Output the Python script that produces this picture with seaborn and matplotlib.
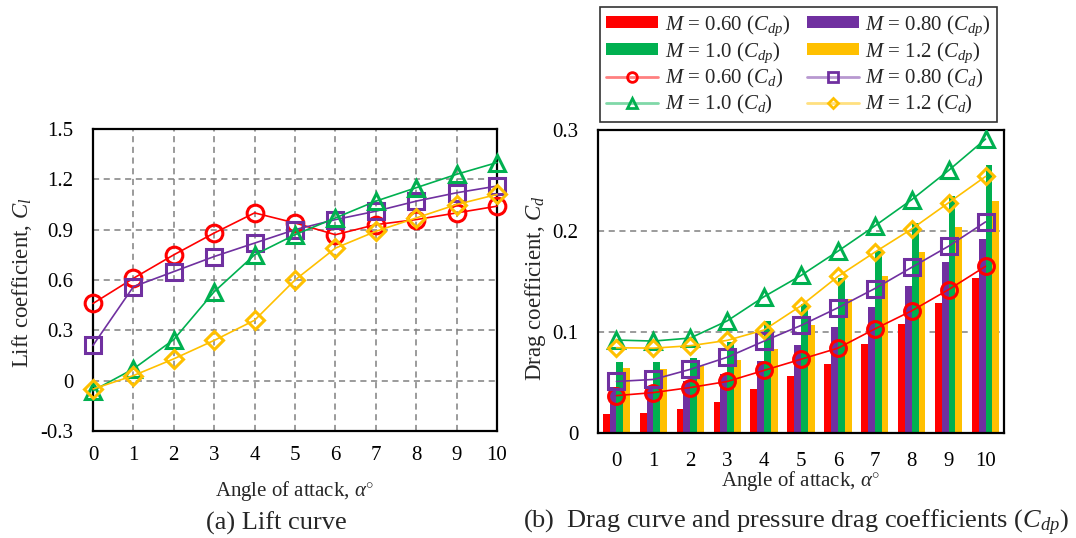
import numpy as np
import pandas as pd
import matplotlib
matplotlib.use("Agg")
import matplotlib.pyplot as plt
from matplotlib.lines import Line2D
from matplotlib.patches import Patch
import seaborn as sns

# ---- data ----
alpha = [0, 1, 2, 3, 4, 5, 6, 7, 8, 9, 10]
mach_labels = ["0.60", "0.80", "1.0", "1.2"]

# lift coefficient C_l
cl_m060 = [0.46, 0.61, 0.75, 0.88, 1.00, 0.94, 0.87, 0.93, 0.96, 1.00, 1.04]
cl_m080 = [0.21, 0.56, 0.65, 0.74, 0.82, 0.90, 0.96, 1.01, 1.07, 1.12, 1.16]
cl_m100 = [-0.06, 0.07, 0.245, 0.53, 0.75, 0.87, 0.97, 1.07, 1.15, 1.23, 1.30]
cl_m120 = [-0.05, 0.03, 0.13, 0.24, 0.36, 0.60, 0.79, 0.89, 0.97, 1.05, 1.11]

# drag coefficient C_d
cd_m060 = [0.037, 0.040, 0.045, 0.051, 0.062, 0.073, 0.084, 0.103, 0.121, 0.142, 0.165]
cd_m080 = [0.051, 0.053, 0.063, 0.075, 0.091, 0.1065, 0.124, 0.143, 0.164, 0.185, 0.209]
cd_m100 = [0.092, 0.091, 0.094, 0.111, 0.135, 0.156, 0.180, 0.205, 0.231, 0.260, 0.291]
cd_m120 = [0.0844, 0.084, 0.0864, 0.0917, 0.102, 0.126, 0.155, 0.179, 0.202, 0.228, 0.254]

# pressure drag coefficient C_dp
cdp_m060 = [0.0185, 0.0198, 0.0237, 0.031, 0.0435, 0.0564, 0.068, 0.0884, 0.108, 0.129, 0.153]
cdp_m080 = [0.046, 0.047, 0.051, 0.058, 0.071, 0.087, 0.105, 0.125, 0.146, 0.169, 0.192]
cdp_m100 = [0.0706, 0.070, 0.074, 0.090, 0.111, 0.128, 0.153, 0.180, 0.208, 0.235, 0.265]
cdp_m120 = [0.064, 0.0636, 0.066, 0.0725, 0.083, 0.107, 0.1325, 0.155, 0.179, 0.204, 0.230]

cl_ticks = [-0.3, 0.0, 0.3, 0.6, 0.9, 1.2, 1.5]
cl_tick_labels = ["-0.3", "0", "0.3", "0.6", "0.9", "1.2", "1.5"]
cd_ticks = [0.0, 0.1, 0.2, 0.3]
cd_tick_labels = ["0", "0.1", "0.2", "0.3"]

colors = ["#FF0000", "#7030A0", "#00B050", "#FFC000"]
light_colors = ["#FF8080", "#B898D0", "#80D8A8", "#FFE080"]
markers = ["o", "s", "^", "D"]
marker_sizes = [12, 12, 12, 9]

# ---- style ----
sns.set_theme(style="white")
plt.rcParams["font.family"] = ["Liberation Serif", "DejaVu Serif"]
plt.rcParams["mathtext.fontset"] = "custom"
plt.rcParams["mathtext.rm"] = "Liberation Serif"
plt.rcParams["mathtext.it"] = "Liberation Serif:italic"
plt.rcParams["mathtext.bf"] = "Liberation Serif:bold"
plt.rcParams["axes.unicode_minus"] = False

FS = 15
YLAB_FS = 16.5
CAP_FS = 19

fig = plt.figure(figsize=(10.76, 5.38), dpi=100)
ax1 = fig.add_axes([0.0864, 0.1989, 0.3755, 0.5613])
ax2 = fig.add_axes([0.5558, 0.1952, 0.3773, 0.5632])

# ---- (a) lift curve ----
cl_series = [cl_m060, cl_m080, cl_m100, cl_m120]
for vals, c, m, ms in zip(cl_series, colors, markers, marker_sizes):
    sns.lineplot(x=alpha, y=vals, ax=ax1, color=c, marker=m, markersize=ms,
                 markerfacecolor="none", markeredgecolor=c, markeredgewidth=2.2,
                 linewidth=1.2, clip_on=False, zorder=3, legend=False)

ax1.set_xlim(0, 10)
ax1.set_ylim(-0.3, 1.5)
ax1.set_xticks(alpha)
ax1.set_xticklabels([str(a) for a in alpha])
ax1.set_yticks(cl_ticks)
ax1.set_yticklabels(cl_tick_labels)
ax1.grid(True, axis="both", color="#808080", linestyle=(0, (4, 3)), linewidth=1.1)
ax1.tick_params(axis="both", length=0, labelsize=FS, colors="black")
ax1.tick_params(axis="x", pad=11)
ax1.tick_params(axis="y", pad=14)
ax1.set_xlabel(r"Angle of attack, $\alpha^{\circ}$", fontsize=FS)
ax1.xaxis.set_label_coords(0.5, -0.16)
ax1.set_ylabel(r"Lift coefficient, $C_l$", fontsize=YLAB_FS)
ax1.yaxis.set_label_coords(-0.145, 0.49)

# ---- (b) drag curve and pressure drag ----
cdp_series = [cdp_m060, cdp_m080, cdp_m100, cdp_m120]
bars = pd.DataFrame({
    "alpha": np.tile(alpha, 4),
    "M": np.repeat(mach_labels, len(alpha)),
    "Cdp": np.concatenate(cdp_series),
})
sns.barplot(data=bars, x="alpha", y="Cdp", hue="M", hue_order=mach_labels,
            palette=colors, width=0.74, saturation=1, ax=ax2, legend=False,
            edgecolor="none", linewidth=0, zorder=2)

cd_series = [cd_m060, cd_m080, cd_m100, cd_m120]
for vals, c, m, ms in zip(cd_series, colors, markers, marker_sizes):
    sns.lineplot(x=list(range(len(alpha))), y=vals, ax=ax2, color=c, marker=m,
                 markersize=ms * 0.95, markerfacecolor="none", markeredgecolor=c,
                 markeredgewidth=2.2, linewidth=1.2, zorder=4, legend=False)

ax2.set_xlim(-0.5, 10.5)
ax2.set_ylim(0, 0.3)
ax2.set_xticks(range(len(alpha)))
ax2.set_xticklabels([str(a) for a in alpha])
ax2.set_yticks(cd_ticks)
ax2.set_yticklabels(cd_tick_labels)
ax2.grid(False)
for yv in cd_ticks[1:-1]:
    ax2.axhline(yv, color="#808080", linestyle=(0, (4, 3)), linewidth=1.1, zorder=1)
ax2.tick_params(axis="both", length=0, labelsize=FS, colors="black")
ax2.tick_params(axis="x", pad=14)
ax2.tick_params(axis="y", pad=14)
ax2.set_xlabel(r"Angle of attack, $\alpha^{\circ}$", fontsize=FS)
ax2.xaxis.set_label_coords(0.5, -0.12)
ax2.set_ylabel(r"Drag coefficient, $C_d$", fontsize=YLAB_FS)
ax2.yaxis.set_label_coords(-0.123, 0.48)

for ax in (ax1, ax2):
    for sp in ax.spines.values():
        sp.set_visible(True)
        sp.set_color("black")
        sp.set_linewidth(1.6)
    ax.set_axisbelow(True)

# ---- legend (two columns: 0.60 / 1.0 on the left, 0.80 / 1.2 on the right) ----
handles, labels = [], []
for col in ([0, 2], [1, 3]):
    for i in col:
        handles.append(Patch(facecolor=colors[i], edgecolor="none"))
        labels.append(r"$M$ = %s ($C_{dp}$)" % mach_labels[i])
    for i in col:
        handles.append(Line2D([], [], color=light_colors[i], linewidth=2, marker=markers[i],
                              markersize=7 if markers[i] != "D" else 5.5,
                              markerfacecolor="none", markeredgecolor=colors[i],
                              markeredgewidth=2))
        labels.append(r"$M$ = %s ($C_d$)" % mach_labels[i])

leg = fig.legend(handles, labels, ncol=2, loc="upper left",
                 bbox_to_anchor=(0.5576, 0.987), fontsize=15,
                 frameon=True, fancybox=False, edgecolor="black",
                 handlelength=2.5, handleheight=0.5, handletextpad=0.3,
                 columnspacing=0.8, labelspacing=0.12, borderpad=0.3,
                 borderaxespad=0)
leg.get_frame().set_linewidth(1.2)

# ---- captions ----
fig.text(276 / 1076, 1 - 523 / 538, "(a) Lift curve", ha="center", va="center",
         fontsize=CAP_FS)
fig.text(796 / 1076, 1 - 523 / 538,
         r"(b)  Drag curve and pressure drag coefficients ($C_{dp}$)",
         ha="center", va="center", fontsize=CAP_FS)

fig.savefig("out.png", dpi=100)
